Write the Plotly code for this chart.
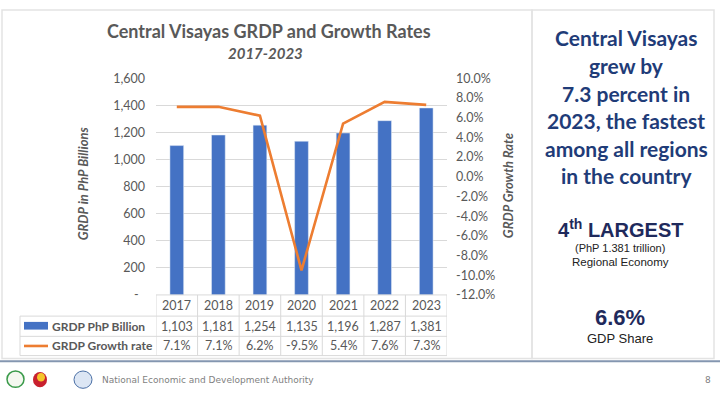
import plotly.graph_objects as go

years = ["2017", "2018", "2019", "2020", "2021", "2022", "2023"]
grdp = [1103, 1181, 1254, 1135, 1196, 1287, 1381]
growth = [7.1, 7.1, 6.2, -9.5, 5.4, 7.6, 7.3]
grdp_labels = ["1,103", "1,181", "1,254", "1,135", "1,196", "1,287", "1,381"]
growth_labels = ["7.1%", "7.1%", "6.2%", "-9.5%", "5.4%", "7.6%", "7.3%"]
left_ticks = [0, 200, 400, 600, 800, 1000, 1200, 1400, 1600]
left_ticktext = ["-\u00a0\u00a0", "200", "400", "600", "800", "1,000", "1,200", "1,400", "1,600"]
right_ticks = [-12, -10, -8, -6, -4, -2, 0, 2, 4, 6, 8, 10]
right_ticktext = ["-12.0%", "-10.0%", "-8.0%", "-6.0%", "-4.0%", "-2.0%", "0.0%",
                  "2.0%", "4.0%", "6.0%", "8.0%", "10.0%"]

W, H = 720, 404
BLUE = "#4472C4"
ORANGE = "#ED7D31"
GRAY = "#595959"
NAVY = "#1F3C78"
GRID = "#D9D9D9"
FONT = "Lato"


def px(x):
    return x / W


def py(y):
    return 1 - y / H


fig = go.Figure()
fig.add_trace(go.Bar(x=years, y=grdp, marker_color=BLUE, width=0.33,
                     name="GRDP PhP Billion", yaxis="y"))
fig.add_trace(go.Scatter(x=years, y=growth, mode="lines",
                         line=dict(color=ORANGE, width=2.6),
                         name="GRDP Growth rate", yaxis="y2"))

x_dom = [px(156), px(447)]
y_dom = [py(298), py(73)]

fig.update_layout(
    width=W, height=H,
    margin=dict(l=0, r=0, t=0, b=0),
    paper_bgcolor="white", plot_bgcolor="white",
    showlegend=False,
    font=dict(family=FONT, color=GRAY, size=12),
    xaxis=dict(domain=x_dom, type="category", showticklabels=False, showgrid=False,
               zeroline=False, showline=False, range=[-0.5, 6.5]),
    yaxis=dict(domain=y_dom, range=[0, 1600], tickvals=left_ticks,
               ticktext=left_ticktext, showgrid=True, gridcolor=GRID,
               gridwidth=1, zeroline=False, showline=False,
               ticklabelstandoff=10,
               tickfont=dict(family=FONT, size=12.5, color=GRAY)),
    yaxis2=dict(overlaying="y", side="right", range=[-12, 10],
                tickvals=right_ticks, ticktext=right_ticktext,
                showgrid=False, zeroline=False, showline=False,
                ticklabelstandoff=8,
                tickfont=dict(family=FONT, size=12.5, color=GRAY)),
)

shapes = []
ann = []


def note(x, y, text, font, xref="paper", xanchor="center", angle=0):
    ann.append(dict(x=x, y=y, xref=xref, yref="paper", text=text, showarrow=False,
                    xanchor=xanchor, yanchor="middle", textangle=angle, font=font))


# panel borders
shapes.append(dict(type="rect", xref="paper", yref="paper", x0=px(2), x1=px(532),
                   y0=py(364), y1=py(2), line=dict(color="#E3E3E3", width=1.5)))
shapes.append(dict(type="rect", xref="paper", yref="paper", x0=px(532), x1=px(714),
                   y0=py(364), y1=py(2), line=dict(color="#E3E3E3", width=1.5)))
shapes.append(dict(type="line", xref="paper", yref="paper", x0=0, x1=1,
                   y0=py(367), y1=py(367), line=dict(color="#8496B0", width=2)))

# data table grid
tl = dict(color=GRID, width=1)
row_top, r1, r2, r3 = 298, 320, 341, 361
shapes.append(dict(type="line", xref="x", yref="paper", x0=-0.5, x1=6.5,
                   y0=py(row_top), y1=py(row_top), line=tl))
for yy in (r1, r2, r3):
    shapes.append(dict(type="line", xref="paper", yref="paper", x0=px(20), x1=x_dom[1],
                       y0=py(yy), y1=py(yy), line=tl))
shapes.append(dict(type="line", xref="paper", yref="paper", x0=px(20), x1=px(20),
                   y0=py(r1), y1=py(r3), line=tl))
for i in range(len(years) + 1):
    shapes.append(dict(type="line", xref="x", yref="paper", x0=i - 0.5, x1=i - 0.5,
                       y0=py(row_top), y1=py(r3), line=tl))

# legend keys in the table
shapes.append(dict(type="rect", xref="paper", yref="paper", x0=px(24), x1=px(48),
                   y0=py(334), y1=py(326), fillcolor=BLUE, line=dict(width=0)))
shapes.append(dict(type="line", xref="paper", yref="paper", x0=px(24), x1=px(48),
                   y0=py(351), y1=py(351), line=dict(color=ORANGE, width=2.6)))

cell_font = dict(family=FONT, size=12.5, color=GRAY)
label_font = dict(family=FONT, size=12, color=GRAY)
for i, yr in enumerate(years):
    note(i, py((row_top + r1) / 2), yr, cell_font, xref="x")
    note(i, py((r1 + r2) / 2), grdp_labels[i], cell_font, xref="x")
    note(i, py((r2 + r3) / 2), growth_labels[i], cell_font, xref="x")
note(px(50), py((r1 + r2) / 2), "<b>GRDP PhP Billion</b>", label_font, xanchor="left")
note(px(50), py((r2 + r3) / 2), "<b>GRDP Growth rate</b>", label_font, xanchor="left")

# titles
note(px(269), py(24), "<b>Central Visayas GRDP and Growth Rates</b>",
     dict(family=FONT, size=18, color=GRAY))
note(px(265), py(47), "<b><i>2017-2023</i></b>", dict(family=FONT, size=15, color=GRAY))
note(px(83), py(182), "<b><i>GRDP in PhP Billions</i></b>",
     dict(family=FONT, size=13, color=GRAY), angle=-90)
note(px(508), py(185), "<b><i>GRDP Growth Rate</i></b>",
     dict(family=FONT, size=13, color=GRAY), angle=-90)

# right panel text
side_lines = ["Central Visayas", "grew by", "7.3 percent in", "2023, the fastest",
              "among all regions", "in the country"]
side_y = [31, 60, 89, 117, 146, 174]
for t, yy in zip(side_lines, side_y):
    note(px(626), py(yy), "<b>" + t + "</b>", dict(family=FONT, size=21, color=NAVY))
note(px(620), py(229), "<b>4<sup>th</sup> LARGEST</b>",
     dict(family="Liberation Sans", size=20, color="#1F2A5C"))
note(px(620), py(249), "(PhP 1.381 trillion)",
     dict(family="Liberation Sans", size=11, color="#222222"))
note(px(620), py(264), "Regional Economy",
     dict(family="Liberation Sans", size=11.5, color="#222222"))
note(px(620), py(321), "<b>6.6%</b>",
     dict(family="Liberation Sans", size=22, color="#1F2A5C"))
note(px(620), py(343), "GDP Share",
     dict(family="Liberation Sans", size=13, color="#222222"))

# footer
shapes.append(dict(type="circle", xref="paper", yref="paper", x0=px(7), x1=px(24),
                   y0=py(394), y1=py(377), line=dict(color="#3A9A4A", width=1.5),
                   fillcolor="#F4F8F0"))
shapes.append(dict(type="circle", xref="paper", yref="paper", x0=px(33), x1=px(47),
                   y0=py(394), y1=py(378), line=dict(width=0), fillcolor="#C8202E"))
shapes.append(dict(type="circle", xref="paper", yref="paper", x0=px(37), x1=px(45),
                   y0=py(388), y1=py(379), line=dict(width=0), fillcolor="#F5C52B"))
shapes.append(dict(type="circle", xref="paper", yref="paper", x0=px(74), x1=px(92),
                   y0=py(395), y1=py(377), line=dict(color="#4A6FA5", width=1),
                   fillcolor="#DCE6F4"))
note(px(100), py(386), "National Economic and Development Authority",
     dict(family="DejaVu Sans", size=9, color="#7F7F7F"), xanchor="left")
note(px(708), py(386), "8", dict(family="DejaVu Sans", size=9, color="#7F7F7F"))

fig.update_layout(shapes=shapes, annotations=ann)
fig.write_html("out.html")
